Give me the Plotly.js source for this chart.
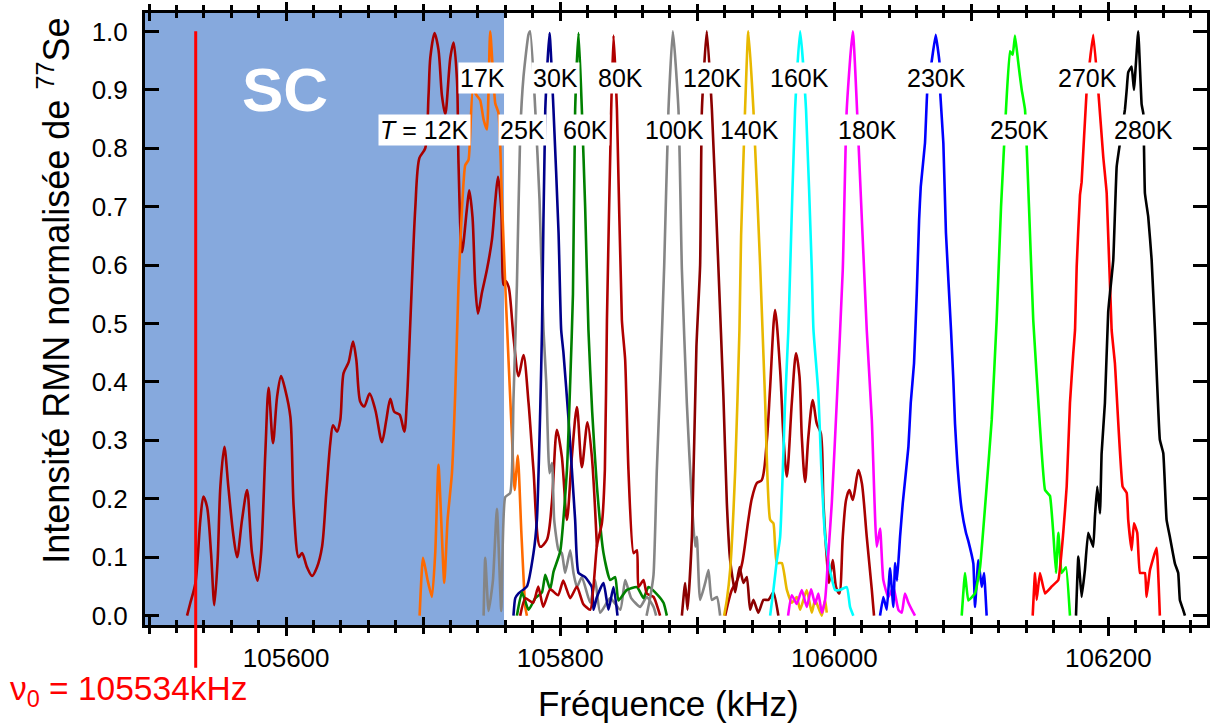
<!DOCTYPE html>
<html>
<head>
<meta charset="utf-8">
<script src="https://cdn.plot.ly/plotly-3.0.1.min.js"></script>
<style>html,body{margin:0;padding:0;background:#fff;}#chart{width:1210px;height:724px;}</style>
</head>
<body>
<div id="chart"></div>
<script>
// ---------- data (frequency in kHz, normalised 77Se NMR intensity) ----------
const NU0 = 105534;          // reference frequency ν0 (kHz)
const SC_END = 105759;       // upper edge of the superconducting (SC) shaded band (kHz)
const X_RANGE = [105497, 106272];
const Y_RANGE = [-0.016, 1.0315];
const X_LABEL_TICKS = [105600, 105800, 106000, 106200];
const X_LABEL_TEXT = ['105600', '105800', '106000', '106200'];
const X_MID_TICKS = [105500, 105700, 105900, 106100];
const X_TITLE = 'Fréquence (kHz)';
const Y_TITLE = 'Intensité RMN normalisée de <sup>77</sup>Se';

const f12K = [105527.7,105530.1,105533.8,105537.4,105539.6,105542.3,105545.2,105547.6,105550.0,105552.0,105554.9,105557.8,105561.3,105564.2,105567.8,105571.5,105575.1,105579.2,105581.7,105584.8,105587.2,105590.4,105593.4,105596.3,105599.4,105603.1,105605.5,105609.1,105611.6,105615.2,105618.9,105622.5,105626.2,105629.3,105632.2,105634.2,105637.1,105639.5,105641.9,105645.6,105648.8,105651.2,105654.1,105657.0,105660.9,105665.1,105669.9,105673.1,105676.0,105678.9,105682.8,105686.2,105688.2,105690.6,105694.2,105697.2,105701.5,105703.9,105705.2,105708.3,105711.2,105713.7,105716.1,105719.8,105722.2,105724.7,105725.8,105728.3,105731.9,105733.6,105736.0,105738.0,105740.0,105742.9,105746.5,105750.2,105752.6,105754.6,105757.0,105758.6,105759.9,105762.3,105765.9,105769.6,105773.2,105776.9,105780.5,105785.4,105790.3,105793.9,105797.6,105801.2,105804.9,105808.5,105812.2,105815.8,105819.9,105823.1,105826.8];
const i12K = [0.0,0.022,0.056,0.164,0.204,0.186,0.107,0.018,0.095,0.221,0.289,0.221,0.141,0.10,0.164,0.215,0.107,0.06,0.107,0.278,0.39,0.295,0.375,0.41,0.386,0.34,0.186,0.10,0.107,0.083,0.068,0.083,0.118,0.21,0.295,0.326,0.315,0.335,0.415,0.434,0.469,0.438,0.366,0.358,0.38,0.352,0.297,0.335,0.371,0.349,0.344,0.315,0.371,0.501,0.696,0.783,0.80,0.89,0.955,0.997,0.968,0.89,0.858,0.955,0.981,0.916,0.773,0.622,0.696,0.728,0.682,0.566,0.517,0.553,0.592,0.644,0.709,0.751,0.696,0.566,0.573,0.563,0.477,0.41,0.446,0.364,0.249,0.118,0.13,0.193,0.318,0.272,0.164,0.272,0.357,0.254,0.331,0.272,0.118];

const f12Kb = [105920.4,105925.2,105929.1,105932.8,105937.3,105939.8,105943.5,105947.1,105950.8,105953.2,105956.8,105960.5,105962.9,105965.4,105969.0,105972.1,105974.6,105976.3,105978.7,105981.1,105984.3,105987.2,105990.2,105992.1,105994.5,105996.2,105998.9,106001.3,106003.7,106006.2,106008.6,106011.0,106013.5,106017.6,106020.1,106023.7,106027.4,106029.0];
const i12Kb = [0.0,0.044,0.06,0.09,0.164,0.20,0.227,0.232,0.30,0.391,0.523,0.42,0.306,0.238,0.364,0.449,0.41,0.306,0.229,0.306,0.369,0.329,0.312,0.193,0.10,0.056,0.095,0.049,0.038,0.135,0.198,0.215,0.198,0.249,0.227,0.135,0.044,0.0];

const f17K = [105697.4,105699.9,105703.2,105706.4,105708.8,105711.2,105715.4,105717.8,105721.0,105723.4,105725.8,105728.3,105730.7,105733.1,105736.3,105739.2,105741.6,105744.1,105746.5,105748.9,105752.6,105755.0,105757.5,105759.9,105762.3,105764.8,105766.7,105769.1,105771.6,105774.5,105775.7];
const i17K = [0.0,0.099,0.061,0.032,0.107,0.258,0.056,0.164,0.244,0.381,0.566,0.696,0.771,0.78,0.90,0.89,0.882,0.849,0.832,1.0,0.877,0.86,0.71,0.566,0.436,0.306,0.215,0.274,0.145,0.015,0.0];

const f25K = [105744.1,105745.3,105747.7,105750.9,105753.8,105757.0,105759.9,105763.5,105765.9,105768.4,105770.8,105773.2,105776.9,105778.1,105781.8,105784.9,105787.8,105789.8,105792.2,105794.0,105795.6,105798.8,105801.2,105803.6,105807.3,105809.7,105812.2,105815.8,105821.9,105825.5,105829.2,105836.5,105843.8,105847.4,105851.8,105858.4,105863.2,105868.1,105870.0];
const i25K = [0.0,0.099,0.008,0.06,0.183,0.008,0.203,0.21,0.371,0.566,0.825,0.922,0.995,1.0,0.866,0.712,0.489,0.40,0.244,0.261,0.164,0.112,0.107,0.073,0.112,0.073,0.049,0.066,0.022,0.061,0.005,0.03,0.01,0.061,0.03,0.015,0.032,0.015,0.0];

const f30K = [105765.9,105767.2,105769.6,105775.7,105780.5,105783.0,105785.4,105786.7,105789.1,105792.2,105795.1,105798.8,105800.7,105802.4,105806.1,105810.9,105813.4,105818.2,105823.1,105824.3,105826.8,105831.6,105835.2,105838.9,105841.8];
const i30K = [0.0,0.03,0.038,0.05,0.107,0.164,0.35,0.489,0.866,0.997,0.866,0.655,0.489,0.449,0.335,0.164,0.073,0.066,0.049,0.01,0.032,0.056,0.01,0.049,0.0];

const f60K = [105768.4,105772.1,105776.9,105781.8,105786.7,105789.1,105792.7,105795.1,105800.0,105804.9,105807.3,105809.3,105810.9,105813.4,105815.8,105818.2,105820.6,105823.3,105826.8,105831.6,105836.5,105840.1,105842.5,105848.6,105856.0,105860.8,105864.4,105870.5,105875.4,105877.8];
const i60K = [0.0,0.04,0.01,0.03,0.04,0.07,0.045,0.075,0.11,0.249,0.40,0.55,0.866,0.997,0.866,0.70,0.489,0.35,0.221,0.107,0.061,0.066,0.026,0.044,0.049,0.03,0.049,0.037,0.022,0.0];

const f80K = [105770.8,105774.5,105780.3,105784.0,105787.6,105792.7,105798.5,105802.2,105807.3,105812.2,105816.8,105821.9,105826.8,105830.4,105832.6,105834.1,105837.2,105838.9,105841.4,105845.0,105847.4,105849.8,105853.5,105856.0,105857.1,105860.8,105863.2,105868.1,105872.9];
const i80K = [0.0,0.03,0.022,0.05,0.015,0.045,0.035,0.06,0.03,0.05,0.02,0.01,0.12,0.158,0.25,0.506,0.866,0.993,0.866,0.506,0.438,0.249,0.107,0.112,0.049,0.061,0.038,0.032,0.0];

const f100K = [105863.0,105865.6,105868.1,105870.5,105873.3,105875.9,105879.0,105882.2,105886.3,105888.8,105892.4,105896.1,105898.5,105899.7,105902.1,105905.8,105908.2,105910.7,105914.3,105916.7];
const i100K = [0.0,0.03,0.07,0.249,0.42,0.6,0.866,1.0,0.866,0.592,0.364,0.193,0.118,0.135,0.027,0.056,0.078,0.027,0.032,0.0];

const f120K = [105888.8,105891.2,105892.9,105896.1,105899.4,105902.1,105903.4,105907.0,105910.7,105915.5,105919.1,105921.6,105924.0,105927.7,105930.8,105933.7,105936.2,105938.6,105941.0,105944.6,105948.3,105951.9,105955.6,105959.2];
const i120K = [0.0,0.056,0.01,0.135,0.46,0.6,0.866,1.0,0.866,0.592,0.375,0.193,0.095,0.04,0.083,0.056,0.066,0.01,0.027,0.005,0.027,0.027,0.04,0.0];

const f140K = [105919.6,105921.6,105924.0,105927.7,105930.8,105932.0,105934.9,105937.3,105941.0,105945.9,105949.5,105953.2,105955.6,105958.1,105961.7,105965.4,105969.0,105972.6,105975.1,105979.9,105983.6,105986.0,105990.9,105993.3,105994.5];
const i140K = [0.0,0.027,0.078,0.249,0.489,0.65,0.866,1.0,0.866,0.6,0.37,0.164,0.158,0.09,0.09,0.044,0.022,0.032,0.01,0.044,0.005,0.027,0.0,0.027,0.005];

const f160K = [105953.2,105955.6,105958.1,105960.5,105964.1,105966.5,105967.8,105971.4,105975.1,105979.4,105983.6,105984.8,105988.4,105990.4,105993.3,105996.9,106000.6,106004.2,106009.1,106011.5,106013.9];
const i160K = [0.0,0.044,0.095,0.135,0.364,0.489,0.592,0.866,1.0,0.866,0.592,0.49,0.38,0.26,0.135,0.078,0.044,0.044,0.049,0.015,0.0];

const f180K = [105966.3,105969.0,105972.6,105976.3,105979.9,105983.1,105986.0,105988.4,105990.9,105993.3,105995.7,105998.2,106001.8,106006.2,106009.1,106013.5,106017.6,106023.7,106027.4,106031.0,106033.4,106035.8,106039.5,106043.1,106046.8,106049.2,106051.6,106054.1,106057.7,106058.9];
const i180K = [0.0,0.035,0.02,0.044,0.015,0.045,0.02,0.038,0.005,0.027,0.107,0.193,0.364,0.592,0.866,1.0,0.814,0.489,0.335,0.118,0.149,0.061,0.032,0.049,0.01,0.005,0.038,0.022,0.005,0.0];

const f230K = [106033.4,106035.8,106038.3,106040.7,106043.1,106044.4,106045.8,106048.0,106050.0,106054.1,106055.8,106058.2,106060.2,106061.9,106063.1,106066.2,106067.9,106071.1,106074.0,106076.7,106077.2,106079.6,106081.5,106085.2,106086.9,106088.1,106089.8,106093.0,106096.1,106097.8,106101.5,106102.7,106105.1,106107.6,106109.3,106111.2];
const i230K = [0.0,0.032,0.01,0.081,0.015,0.09,0.06,0.135,0.193,0.289,0.364,0.432,0.552,0.677,0.734,0.809,0.9,0.949,0.994,0.949,0.9,0.809,0.655,0.489,0.403,0.329,0.261,0.181,0.142,0.128,0.089,0.015,0.095,0.049,0.073,0.0];

const f250K = [106093.0,106095.4,106097.8,106102.7,106106.4,106111.2,106114.9,106118.5,106121.7,106125.3,106128.2,106130.2,106131.9,106134.1,106135.5,106136.8,106139.2,106142.1,106145.2,106150.1,106153.8,106157.4,106159.8,106161.8,106163.5,106165.9,106169.1,106172.0];
const i250K = [0.0,0.073,0.026,0.038,0.083,0.221,0.335,0.506,0.70,0.866,0.966,0.96,0.993,0.95,0.923,0.90,0.866,0.70,0.506,0.323,0.215,0.205,0.142,0.073,0.142,0.073,0.083,0.0];

const f270K = [106144.8,106146.5,106147.7,106150.1,106153.8,106158.7,106163.5,106167.1,106169.6,106172.0,106174.4,106175.7,106176.9,106179.3,106180.5,106184.2,106189.0,106192.6,106196.3,106198.8,106202.4,106204.8,106210.4,106213.4,106214.5,106217.0,106218.7,106221.1,106223.1,106226.7,106227.9,106230.4,106235.2,106237.6];
const i270K = [0.0,0.073,0.027,0.073,0.038,0.05,0.061,0.142,0.221,0.364,0.449,0.489,0.597,0.72,0.742,0.90,0.994,0.90,0.785,0.723,0.489,0.432,0.221,0.21,0.164,0.112,0.158,0.142,0.073,0.073,0.032,0.078,0.116,0.0];

const f280K = [106176.4,106178.1,106180.5,106182.9,106185.3,106189.0,106190.2,106191.9,106193.9,106195.1,106197.5,106199.9,106201.2,106203.6,106206.1,106208.5,106212.1,106213.4,106214.5,106217.0,106218.7,106221.8,106224.3,106225.5,106226.7,106229.1,106231.6,106234.0,106237.6,106240.1,106242.5,106244.9,106248.6,106251.0,106252.2,106254.6,106255.9];
const i280K = [0.0,0.101,0.032,0.078,0.142,0.118,0.169,0.221,0.175,0.278,0.364,0.52,0.552,0.609,0.769,0.809,0.866,0.90,0.93,0.94,0.90,1.0,0.875,0.86,0.723,0.683,0.609,0.489,0.301,0.278,0.164,0.135,0.089,0.073,0.027,0.01,0.0];

// temperature labels: text, frequency position (kHz), row (0 = upper, 1 = lower)
const labelText = ['<i>T</i> = 12K','17K','25K','30K','60K','80K','100K','120K','140K','160K','180K','230K','250K','270K','280K'];
const labelFreq = [105700.8,105743.1,105772.3,105796.4,105818.2,105843.8,105883.5,105911.2,105938.2,105974.7,106024.3,106074.3,106135.5,106184.8,106225.6];
const labelRow  = [1,0,1,0,1,0,1,0,1,0,1,0,1,0,1];
const ROW_Y = [0.921, 0.832];

// ---------- traces ----------
const series = [
  {name:'12K',  x:f12K,  y:i12K,  color:'#a80000', smooth:0.8},
  {name:'12K',  x:f12Kb, y:i12Kb, color:'#a80000', smooth:0.8},
  {name:'17K',  x:f17K,  y:i17K,  color:'#ff6a00', smooth:0.5},
  {name:'25K',  x:f25K,  y:i25K,  color:'#858585', smooth:0.5},
  {name:'30K',  x:f30K,  y:i30K,  color:'#00008b', smooth:0.5},
  {name:'60K',  x:f60K,  y:i60K,  color:'#008000', smooth:0.5},
  {name:'80K',  x:f80K,  y:i80K,  color:'#b00000', smooth:0.5},
  {name:'100K', x:f100K, y:i100K, color:'#858585', smooth:0.5},
  {name:'120K', x:f120K, y:i120K, color:'#8b0000', smooth:0.5},
  {name:'140K', x:f140K, y:i140K, color:'#e8b800', smooth:0.5},
  {name:'160K', x:f160K, y:i160K, color:'#00ffff', smooth:0.5},
  {name:'180K', x:f180K, y:i180K, color:'#ff00ff', smooth:0.5},
  {name:'230K', x:f230K, y:i230K, color:'#0000ff', smooth:0.3},
  {name:'250K', x:f250K, y:i250K, color:'#00ff00', smooth:0.3},
  {name:'270K', x:f270K, y:i270K, color:'#ff0000', smooth:0.3},
  {name:'280K', x:f280K, y:i280K, color:'#000000', smooth:0.3}
];
const traces = series.map(s => ({
  type:'scatter', mode:'lines', name:s.name, x:s.x, y:s.y,
  line:{color:s.color, width:2.6, shape:'spline', smoothing:s.smooth}, hoverinfo:'x+y+name'
}));
// empty traces on the overlay axes used for the extra tick marks
traces.push({type:'scatter', mode:'lines', x:[], y:[], xaxis:'x2', yaxis:'y', showlegend:false, hoverinfo:'skip'});
traces.push({type:'scatter', mode:'lines', x:[], y:[], xaxis:'x3', yaxis:'y', showlegend:false, hoverinfo:'skip'});

const FONT = 'Liberation Sans, Arial, Helvetica, sans-serif';
const annotations = labelText.map((t, k) => ({
  x: labelFreq[k], y: ROW_Y[labelRow[k]], xref:'x', yref:'y',
  text: t, showarrow:false, bgcolor:'#ffffff', borderpad:1,
  font:{family:FONT, size:25, color:'#000'}, xanchor:'center', yanchor:'middle'
}));
annotations.push({
  x:0.132, y:0.875, xref:'paper', yref:'paper', text:'<b>SC</b>', showarrow:false,
  font:{family:FONT, size:62, color:'#ffffff'}, xanchor:'center', yanchor:'middle'
});
annotations.push({
  x:-0.129, y:-0.108, xref:'paper', yref:'paper', xanchor:'left', yanchor:'middle',
  text:'ν<sub>0</sub> = ' + NU0 + 'kHz', showarrow:false,
  font:{family:FONT, size:33.5, color:'#ff0000'}
});
// axis titles (placed as annotations to match the reference's offsets)
annotations.push({
  x:0.4925, y:-0.1275, xref:'paper', yref:'paper', xanchor:'center', yanchor:'middle',
  text:X_TITLE, showarrow:false, font:{family:FONT, size:35, color:'#000'}
});
annotations.push({
  x:-0.0857, y:0.546, xref:'paper', yref:'paper', xanchor:'center', yanchor:'middle',
  text:Y_TITLE, textangle:-90, showarrow:false, font:{family:FONT, size:36, color:'#000'}
});

const layout = {
  width:1210, height:724,
  margin:{l:145, r:3, t:13, b:99},
  paper_bgcolor:'#ffffff', plot_bgcolor:'#ffffff',
  showlegend:false,
  font:{family:FONT, color:'#000'},
  xaxis:{
    range:X_RANGE, tickmode:'array', tickvals:X_LABEL_TICKS, ticktext:X_LABEL_TEXT,
    ticks:'outside', ticklen:8, tickwidth:3, tickcolor:'#000',
    minor:{tickmode:'linear', tick0:105500, dtick:20, ticks:'outside', ticklen:5, tickwidth:3, tickcolor:'#000', showgrid:false},
    showline:true, linewidth:3, linecolor:'#000', mirror:'ticks',
    showgrid:false, zeroline:false, tickfont:{family:FONT, size:26, color:'#000'}
  },
  xaxis2:{
    overlaying:'x', anchor:'y', side:'bottom', range:X_RANGE,
    tickmode:'linear', tick0:105500, dtick:100, ticks:'inside', ticklen:8, tickwidth:3, tickcolor:'#000',
    minor:{tickmode:'linear', tick0:105500, dtick:20, ticks:'inside', ticklen:5, tickwidth:3, tickcolor:'#000', showgrid:false},
    showticklabels:false, showline:false, mirror:'ticks', showgrid:false, zeroline:false
  },
  xaxis3:{
    overlaying:'x', anchor:'y', side:'bottom', range:X_RANGE,
    tickmode:'array', tickvals:X_MID_TICKS, ticks:'outside', ticklen:8, tickwidth:3, tickcolor:'#000',
    showticklabels:false, showline:false, mirror:'ticks', showgrid:false, zeroline:false
  },
  yaxis:{
    range:Y_RANGE, tickmode:'linear', tick0:0, dtick:0.1, tickformat:'.1f',
    ticks:'inside', ticklen:14, tickwidth:3, tickcolor:'#000', ticklabelstandoff:9,
    showline:true, linewidth:3, linecolor:'#000', mirror:'ticks',
    showgrid:false, zeroline:false, tickfont:{family:FONT, size:26, color:'#000'}
  },
  shapes:[
    {type:'rect', xref:'x', yref:'paper', x0:X_RANGE[0], x1:SC_END, y0:0, y1:1,
     fillcolor:'#86a9dd', line:{width:0}, layer:'below'},
    {type:'line', xref:'x', yref:'paper', x0:NU0, x1:NU0, y0:0.970, y1:-0.07,
     line:{color:'#ff0000', width:3}, layer:'above'}
  ],
  annotations:annotations
};

Plotly.newPlot('chart', traces, layout, {displayModeBar:false, staticPlot:true});
</script>
</body>
</html>
